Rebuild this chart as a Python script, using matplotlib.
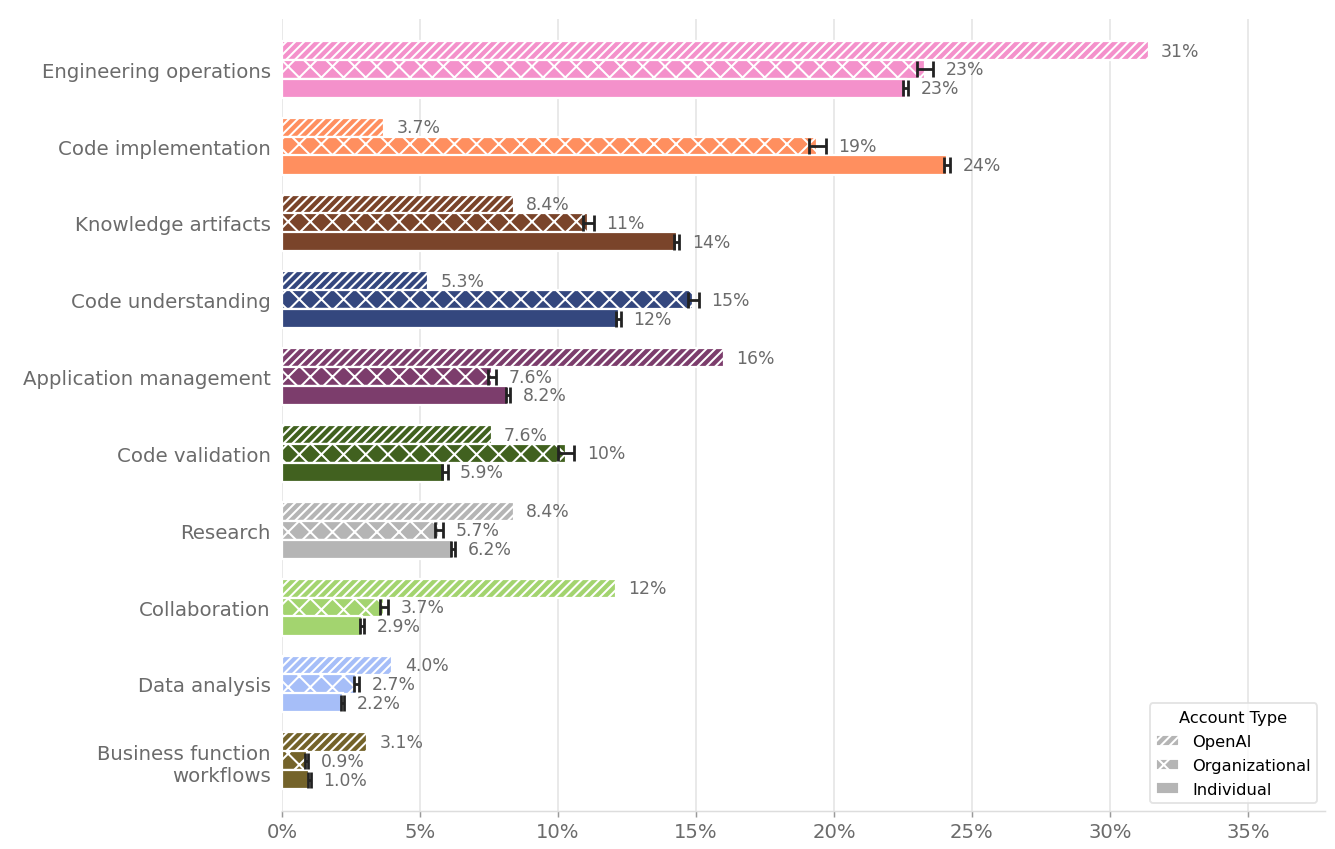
import numpy as np
import matplotlib.pyplot as plt
from matplotlib.patches import Patch

categories = ["Engineering operations", "Code implementation", "Knowledge artifacts",
              "Code understanding", "Application management", "Code validation",
              "Research", "Collaboration", "Data analysis", "Business function\nworkflows"]
colors = ["#F491CB", "#FF8F5F", "#7A442A", "#34477E", "#7C3D6C",
          "#41611F", "#B5B5B5", "#A3D46F", "#A6BEF8", "#74632A"]

openai = [31.4, 3.7, 8.4, 5.3, 16.0, 7.6, 8.4, 12.1, 4.0, 3.1]
org = [23.3, 19.4, 11.1, 14.9, 7.6, 10.3, 5.7, 3.7, 2.7, 0.9]
org_err = [0.30, 0.30, 0.20, 0.20, 0.15, 0.30, 0.15, 0.15, 0.10, 0.06]
indiv = [22.6, 24.1, 14.3, 12.2, 8.2, 5.9, 6.2, 2.9, 2.2, 1.0]
ind_err = [0.10, 0.10, 0.10, 0.08, 0.08, 0.10, 0.08, 0.08, 0.06, 0.05]

series = [("OpenAI", openai, None, "/////"),
          ("Organizational", org, org_err, "xx"),
          ("Individual", indiv, ind_err, "")]

plt.rcParams["hatch.linewidth"] = 1.1
fig, ax = plt.subplots(figsize=(10.02, 6.375), dpi=133.33)
fig.subplots_adjust(left=0.211, right=0.992, top=0.976, bottom=0.045)

y = np.arange(len(categories))
h = 0.25
offsets = [-0.245, 0.0, 0.245]
for (name, vals, errs, hatch), off in zip(series, offsets):
    ax.barh(y + off, vals, height=h, color=colors, edgecolor="white",
            linewidth=1.2, hatch=hatch, zorder=2)
    if errs is not None:
        ax.errorbar(vals, y + off, xerr=errs, fmt="none", ecolor="#222222",
                    elinewidth=1.5, capsize=4.5, capthick=1.5, zorder=3)
    for i, v in enumerate(vals):
        e = errs[i] if errs is not None else 0
        lab = "%.0f%%" % v if v >= 10 else "%.1f%%" % v
        ax.text(v + e + 0.45, y[i] + off, lab, va="center", ha="left",
                fontsize=9.3, color="#6b6b6b")

ax.set_yticks(y)
ax.set_yticklabels(categories, fontsize=10.65, color="#6b6b6b")
ax.set_ylim(9.65, -0.65)
ax.set_xlim(0, 37.8)
xt = np.arange(0, 36, 5)
ax.set_xticks(xt)
ax.set_xticklabels(["%d%%" % t for t in xt], fontsize=10.6, color="#6b6b6b")
ax.tick_params(axis="y", length=0, pad=6)
ax.tick_params(axis="x", length=3, color="#999999", pad=3)
ax.grid(axis="x", color="#e5e5e5", linewidth=0.9, zorder=0)
ax.set_axisbelow(True)
for s in ["top", "right", "left"]:
    ax.spines[s].set_visible(False)
ax.spines["bottom"].set_color("#dddddd")

handles = [Patch(facecolor="#b5b5b5", edgecolor="white", hatch=hatch, label=name)
           for name, _, _, hatch in series]
leg = ax.legend(handles=handles, title="Account Type", loc="lower right",
                fontsize=8.8, title_fontsize=8.8, frameon=True,
                bbox_to_anchor=(1.0, -0.001), handlelength=1.4, handletextpad=0.8,
                labelspacing=0.55)
leg.get_frame().set_edgecolor("#dddddd")

fig.savefig("out.png", dpi=133.33)
